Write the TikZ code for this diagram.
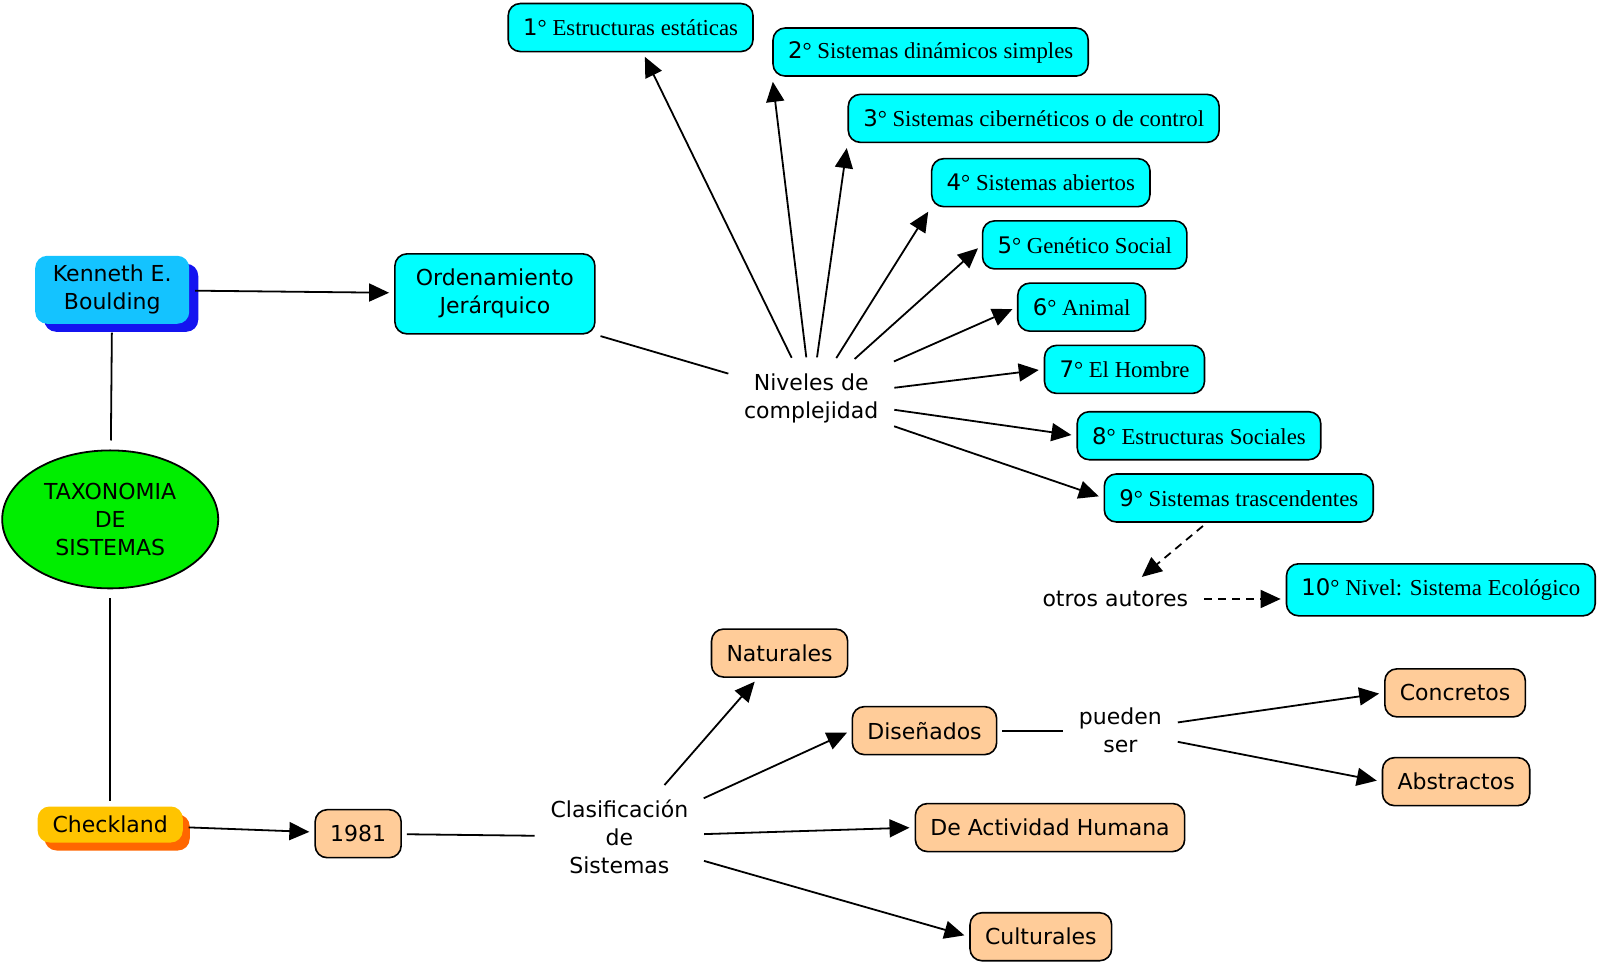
\documentclass[tikz,border=0pt]{standalone}
\usepackage{fontspec}
\setmainfont{Liberation Serif}
\setsansfont{DejaVu Sans}
\usepackage{tikz}
\usetikzlibrary{arrows.meta, shapes, shadows, positioning}

\definecolor{cian}{RGB}{0,255,255}
\definecolor{celeste}{RGB}{20,195,255}
\definecolor{azul}{RGB}{20,20,240}
\definecolor{verde}{RGB}{0,238,0}
\definecolor{oro}{RGB}{255,196,0}
\definecolor{naranja}{RGB}{255,102,0}
\definecolor{durazno}{RGB}{255,204,153}

\newcommand{\nro}[1]{\textsf{#1}°}

\tikzset{
  caja/.style={draw, line width=0.8pt, rounded corners=6pt, minimum height=24pt,
    inner xsep=7.5pt, align=center, font=\sffamily\fontsize{11}{14}\selectfont},
  nivel/.style={caja, fill=cian, font=\rmfamily\fontsize{11.4}{14}\selectfont},
  clase/.style={caja, fill=durazno},
  texto/.style={align=center, inner sep=1pt, outer sep=4.5pt,
    font=\sffamily\fontsize{11}{14}\selectfont},
}

\begin{document}
\begin{tikzpicture}[x=0.5102pt, y=-0.5102pt, line width=0.9pt,
    >={Triangle[length=10pt,width=9pt]}, shorten <=2.5pt, shorten >=2.5pt]
  \useasboundingbox (0,0) rectangle (1568,945);

  \node[caja, draw=none, fill=celeste, minimum width=77pt, minimum height=34pt,
    drop shadow={shadow xshift=4.5pt, shadow yshift=-4pt, fill=azul, opacity=1}]
    (kenneth) at (110,284) {Kenneth E.\\Boulding};
  \node[caja, fill=cian, minimum width=100pt, minimum height=40pt]
    (orden) at (485,288) {Ordenamiento\\Jerárquico};
  \node[ellipse, draw, fill=verde, minimum width=108pt, minimum height=69pt, inner sep=0pt,
    align=center, font=\sffamily\fontsize{11}{14}\selectfont]
    (taxo) at (108,509) {TAXONOMIA\\DE\\SISTEMAS};
  \node[caja, draw=none, fill=oro, minimum width=68pt, minimum height=18pt, rounded corners=6pt,
    drop shadow={shadow xshift=3.5pt, shadow yshift=-4pt, fill=naranja, opacity=1}]
    (check) at (108,808) {Checkland};
  \node[clase] (anio) at (351,817) {1981};
  \node[texto] (clasif) at (607,820) {Clasificación\\de\\Sistemas};
  \node[texto] (niveles) at (795,390) {Niveles de\\complejidad};

  %niveles de Boulding
  \node[nivel] (n1) at (618,27) {\nro{1} Estructuras estáticas};
  \node[nivel] (n2) at (912,51) {\nro{2} Sistemas dinámicos simples};
  \node[nivel] (n3) at (1013,116) {\nro{3} Sistemas cibernéticos o de control};
  \node[nivel] (n4) at (1020,179) {\nro{4} Sistemas abiertos};
  \node[nivel] (n5) at (1063,240) {\nro{5} Genético Social};
  \node[nivel] (n6) at (1060,301) {\nro{6} Animal};
  \node[nivel] (n7) at (1102,362) {\nro{7} El Hombre};
  \node[nivel] (n8) at (1175,427) {\nro{8} Estructuras Sociales};
  \node[nivel] (n9) at (1214,488) {\nro{9} Sistemas trascendentes};
  \node[texto] (otros) at (1093,587) {otros autores};
  \node[nivel, minimum height=26pt] (n10) at (1412,578) {\nro{10} Nivel: Sistema Ecológico};

  %clasificacion de Checkland
  \node[clase] (nat) at (764,640) {Naturales};
  \node[clase] (dis) at (906,716) {Diseñados};
  \node[texto] (pueden) at (1098,716) {pueden\\ser};
  \node[clase] (conc) at (1426,679) {Concretos};
  \node[clase] (abst) at (1427,766) {Abstractos};
  \node[clase] (dah) at (1029,811) {De Actividad Humana};
  \node[clase] (cult) at (1020,918) {Culturales};

  \draw[->] (kenneth) to (orden);
  \draw[shorten <=4pt, shorten >=4.5pt] (kenneth) to (taxo);
  \draw[shorten <=4.5pt] (taxo) to (check);
  \draw[->] (check) to (anio);
  \draw (anio) to (clasif);
  \draw (orden.south east) to (niveles);

  \draw[->] (niveles) to (n1);
  \draw[->] (niveles) to (n2.south west);
  \draw[->] (niveles) to (n3.south west);
  \draw[->] (niveles) to (n4.south west);
  \draw[->] (niveles) to (n5.west);
  \draw[->] (niveles) to (n6.west);
  \draw[->] (niveles) to (n7.west);
  \draw[->] (niveles) to (n8.west);
  \draw[->] (niveles) to (n9.west);
  \draw[->, dashed, dash pattern=on 4pt off 3pt] ([xshift=-16pt]n9.south) to (otros);
  \draw[->, dashed, dash pattern=on 4pt off 3pt] (otros) to (otros -| n10.west);

  \draw[->] (clasif) to (nat);
  \draw[->] (clasif) to (dis.west);
  \draw[->] (clasif) to (dah.west);
  \draw[->] (clasif) to (cult.west);
  \draw (dis) to (pueden);
  \draw[->] (pueden) to (conc.west);
  \draw[->] (pueden) to (abst.west);
\end{tikzpicture}
\end{document}
